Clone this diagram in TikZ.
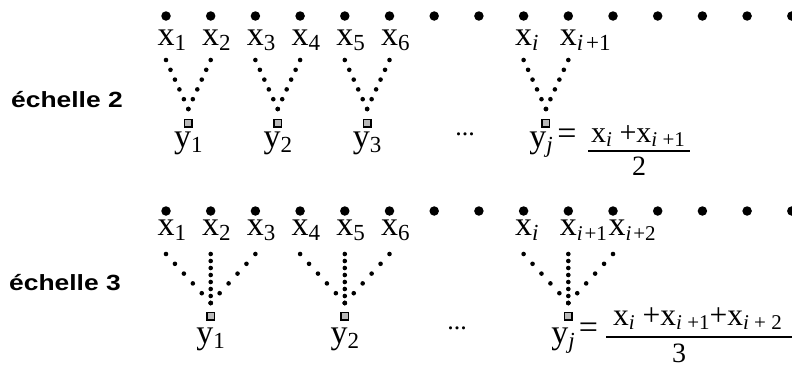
\documentclass[tikz,border=0pt]{standalone}
\usepackage{graphicx}
\usepackage{fontspec}
\setmainfont{Liberation Serif}
\newfontfamily\labelfont{Liberation Sans}
\usetikzlibrary{calc}
\newcommand\sbs[1]{\raisebox{-5pt}{\fontsize{23}{23}\selectfont #1}}
\newcommand\sbt[1]{\raisebox{-5pt}{\fontsize{21}{21}\selectfont #1}}
\newcommand\sbn[1]{\raisebox{-4pt}{\fontsize{21}{21}\selectfont #1}}
\newcommand\ip[1]{\textit{i}\hspace{3pt}+#1}
\newcommand\dotrow[3]{\foreach \ii in {0,...,#3} {\fill ($(#1)!\ii/#3!(#2)$) circle (2.3pt);}}
\tikzset{
  bigdot/.style={circle, fill=black, inner sep=0pt, minimum size=9.5pt},
  sq/.style={draw=black, fill=gray!55, line width=1.5pt, inner sep=0pt, minimum size=7.5pt},
  lab/.style={inner sep=0pt, anchor=base, font=\fontsize{34}{34}\selectfont},
  num/.style={inner sep=0pt, anchor=base west, font=\fontsize{30}{30}\selectfont},
  den/.style={inner sep=0pt, anchor=base, font=\fontsize{28}{28}\selectfont},
  ell/.style={inner sep=0pt, anchor=base, font=\fontsize{26}{26}\selectfont},
  scalelab/.style={inner sep=0pt, anchor=base west, font=\labelfont\bfseries\fontsize{22}{22}\selectfont},
  fracbar/.style={line width=2pt},
}
\begin{document}
\begin{tikzpicture}[x=1pt,y=-1pt]
\useasboundingbox (0,0) rectangle (792,367);
% big dots
\foreach \k in {0,...,14} {
  \node[bigdot] (a\k) at ({166+44.7*\k},16) {};
  \node[bigdot] (b\k) at ({166+44.7*\k},211) {};
}
% scale labels
\node[scalelab] (sc2) at (11,107) {\scalebox{1.2}[1]{échelle 2}};
\node[scalelab] (sc3) at (9,290) {\scalebox{1.2}[1]{échelle 3}};
% row 1 labels
\foreach \k/\t in {0/1,1/2,2/3,3/4,4/5,5/6,8/{\textit{i}},9/{\ip{1}}} {
  \node[lab] (xa\k) at ({166+44.7*\k},45) {x\rlap{\sbs{\t}}};
}
% row 1 trees
\foreach \p/\q/\n in {0/1/1, 2/3/2, 4/5/3, 8/9/j} {
  \coordinate (l\n) at ({166+44.7*\p},60);
  \coordinate (r\n) at ({166+44.7*\q},60);
  \coordinate (v\n) at ({166+44.7*(\p+\q)/2},109);
  \dotrow{l\n}{v\n}{5}
  \dotrow{r\n}{v\n}{5}
  \node[sq] (s\n) at ({166+44.7*(\p+\q)/2},123) {};
}
\node[lab] (ya1) at (188.35,147) {y\sbs{1}};
\node[lab] (ya2) at (277.75,147) {y\sbs{2}};
\node[lab] (ya3) at (367.15,147) {y\sbs{3}};
\node[ell] (dots1) at (465,135) {...};
\node[lab] (yaj) at (541,147) {y\sbs{\textit{j}}};
\node[lab] (eq1) at (567,144) {=};
\node[num] (nu1) at (591,142) {x\sbn{\textit{i}} +x\sbn{\textit{i} +1}};
\coordinate (bl1) at (588,151);
\coordinate (br1) at (690,151);
\draw[fracbar] (bl1) -- (br1);
\node[den] (de1) at (639,175) {2};
% row 2 labels
\foreach \k/\t in {0/1,1/2,2/3,3/4,4/5,5/6,8/{\textit{i}}} {
  \node[lab] (xb\k) at ({166+44.7*\k},235) {x\rlap{\sbs{\t}}};
}
\node[lab] (xb9) at (568.3,235) {x\rlap{\sbt{\textit{i}\hspace{2pt}+1}}};
\node[lab] (xb10) at (617,235) {x\rlap{\sbt{\textit{i}\hspace{2pt}+2}}};
% row 2 trees
\foreach \p/\n in {0/1, 3/2, 8/j} {
  \coordinate (L\n) at ({166+44.7*\p},254);
  \coordinate (M\n) at ({166+44.7*(\p+1)},254);
  \coordinate (R\n) at ({166+44.7*(\p+2)},254);
  \coordinate (V\n) at ({166+44.7*(\p+1)},303);
  \dotrow{L\n}{V\n}{5}
  \dotrow{R\n}{V\n}{5}
  \dotrow{M\n}{V\n}{7}
  \node[sq] (S\n) at ({166+44.7*(\p+1)},316) {};
}
\node[lab] (yb1) at (210.7,343) {y\sbs{1}};
\node[lab] (yb2) at (344.8,343) {y\sbs{2}};
\node[ell] (dots2) at (457,329) {...};
\node[lab] (ybj) at (563,343) {y\sbs{\textit{j}}};
\node[lab] (eq2) at (588.5,338) {=};
\node[num,font=\fontsize{31.5}{31.5}\selectfont] (nu2) at (613,325) {x\sbn{\textit{i}} +x\sbn{\textit{i} +1}+x\sbn{\textit{i} + 2}};
\coordinate (bl2) at (606,337);
\coordinate (br2) at (792,337);
\draw[fracbar] (bl2) -- (br2);
\node[den] (de2) at (679,362) {3};
\end{tikzpicture}
\end{document}
